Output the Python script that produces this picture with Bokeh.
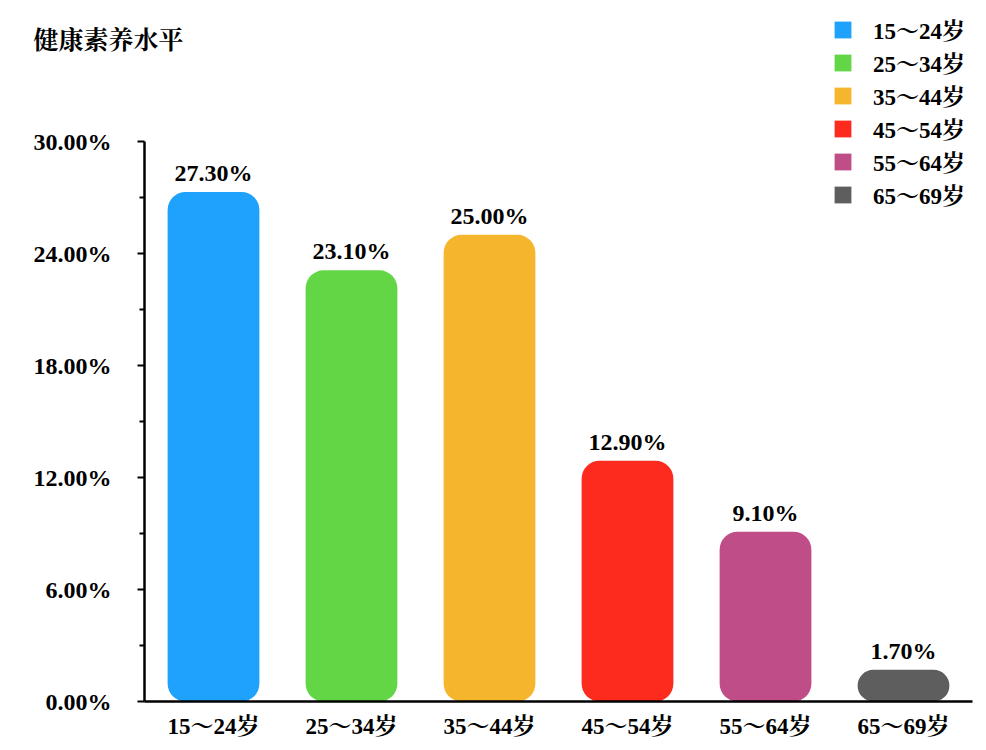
from bokeh.plotting import figure
from bokeh.models import ColumnDataSource, FactorRange, Range1d, PrintfTickFormatter, Legend, LegendItem, FixedTicker
from bokeh.core.properties import value
from bokeh.embed import file_html
from bokeh.resources import INLINE

title = "健康素养水平"
categories = ["15～24岁", "25～34岁", "35～44岁", "45～54岁", "55～64岁", "65～69岁"]
values = [27.30, 23.10, 25.00, 12.90, 9.10, 1.70]
colors = ["#1EA2FB", "#63D646", "#F5B62E", "#FC2B1E", "#BF4D88", "#5E5E5E"]
y_ticks = [0, 6, 12, 18, 24, 30]
y_minor_ticks = [3, 9, 15, 21, 27]

FONT = "'Liberation Serif', 'Noto Serif CJK SC', 'Noto Sans CJK SC', serif"

src = ColumnDataSource(dict(
    cat=categories, val=values, color=colors,
    label=["%.2f%%" % v for v in values],
))

TOP = 0
p = figure(width=986, height=750, x_range=FactorRange(*categories, range_padding=0),
           y_range=Range1d(0, 30 * (701 - TOP) / 560), output_backend="svg", toolbar_location=None,
           min_border_left=144, min_border_right=14, min_border_top=TOP, min_border_bottom=49)
p.outline_line_color = None
p.xgrid.visible = False
p.ygrid.visible = False

p.title.text = title
p.title.align = "left"
p.title.vertical_align = "bottom"
p.title.offset = -111
p.title.text_font = FONT
p.title.text_font_size = "25px"
p.title.text_font_style = "bold"
p.title.text_color = "#000000"
p.title.standoff = -106

r = p.vbar(x="cat", top="val", width=0.665, source=src, fill_color="color",
           line_color=None, border_radius=18)

p.text(x="cat", y="val", text="label", source=src, text_align="center",
       text_baseline="bottom", y_offset=-6, text_font=value(FONT),
       text_font_size="24px", text_font_style="bold", text_color="#000000")

# axes
ya = p.yaxis[0]
ya.bounds = (0, 30)
ya.ticker = FixedTicker(ticks=y_ticks, minor_ticks=y_minor_ticks)
ya.formatter = PrintfTickFormatter(format="%.2f%%")
ya.axis_line_width = 2.5
ya.axis_line_color = "#000000"
ya.major_tick_line_width = 2
ya.major_tick_line_color = "#000000"
ya.major_tick_out = 7
ya.major_tick_in = 0
ya.minor_tick_line_width = 2
ya.minor_tick_line_color = "#000000"
ya.minor_tick_out = 5
ya.minor_tick_in = 0
ya.major_label_standoff = 26
ya.major_label_text_font = FONT
ya.major_label_text_font_size = "24px"
ya.major_label_text_font_style = "bold"
ya.major_label_text_color = "#000000"

xa = p.xaxis[0]
xa.axis_line_width = 2.5
xa.axis_line_color = "#000000"
xa.major_tick_line_color = None
xa.major_tick_out = 0
xa.major_tick_in = 0
xa.major_label_standoff = 12
xa.major_label_text_font = FONT
xa.major_label_text_font_size = "23px"
xa.major_label_text_font_style = "bold"
xa.major_label_text_color = "#000000"

# legend via individual off-screen renderers
items = []
for c, col in zip(categories, colors):
    rr = p.vbar(x=[categories[0]], top=[-100], bottom=[-101], width=0.5,
                fill_color=col, line_color=None)
    items.append(LegendItem(label=c, renderers=[rr]))
leg = Legend(items=items, location=(688, 490), glyph_width=21, glyph_height=21,
             label_height=21, spacing=-2, padding=0, margin=0, label_standoff=20,
             border_line_alpha=0, background_fill_alpha=0,
             label_text_font=FONT, label_text_font_size="23px",
             label_text_font_style="bold", label_text_color="#000000")
p.add_layout(leg)

open("out.html", "w").write(file_html(p, INLINE))
